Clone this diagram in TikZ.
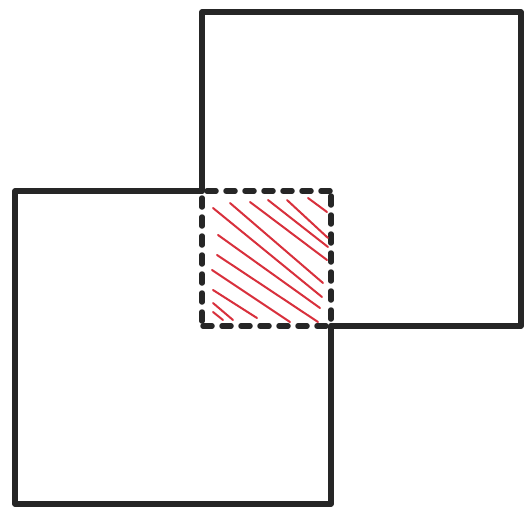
\documentclass[tikz,border=0pt]{standalone}
\begin{document}
\begin{tikzpicture}[x=1pt,y=-1pt,
  sq/.style={draw=black!85,line width=5.5pt,line join=round,line cap=round},
  dsh/.style={draw=black!85,line width=5.5pt,line cap=round,dash pattern=on 9pt off 10pt},
  hatch/.style={draw=hred,line width=2pt,line cap=round}]
\definecolor{hred}{HTML}{D8303C}
\useasboundingbox (0,0) rectangle (526,511);
% top-right square (solid part)
\draw[sq] (202,191) -- (202,12) -- (521,12) -- (521,326) -- (331,326);
% bottom-left square (solid part)
\draw[sq] (202,191) -- (15,191) -- (15,504) -- (331,504) -- (331,326);
% overlap dashed
\draw[dsh] (207,191) -- (331,191);
\draw[dsh] (331,196) -- (331,326);
\draw[dsh] (326,326) -- (202,326);
\draw[dsh] (202,321) -- (202,191);
% hatching
\draw[hatch] (308,198) -- (327,212);
\draw[hatch] (287,200) -- (328,238);
\draw[hatch] (268,200) -- (328,247);
\draw[hatch] (250,202) -- (327,260);
\draw[hatch] (230,203) -- (323,283);
\draw[hatch] (213,208) -- (322,297);
\draw[hatch] (218,235) -- (320,308);
\draw[hatch] (217,255) -- (318,322);
\draw[hatch] (212,270) -- (290,322);
\draw[hatch] (213,290) -- (257,318);
\draw[hatch] (213,303) -- (233,320);
\draw[hatch] (213,312) -- (223,320);
\end{tikzpicture}
\end{document}
